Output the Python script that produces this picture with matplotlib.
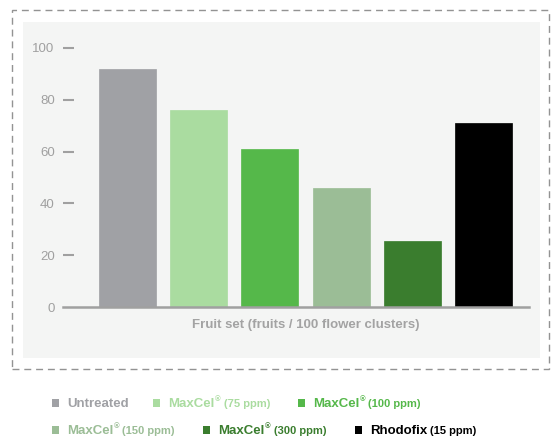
import matplotlib
matplotlib.use("Agg")
import matplotlib.pyplot as plt
from matplotlib.patches import Rectangle

# data
names = ["Untreated", "MaxCel", "MaxCel", "MaxCel", "MaxCel", "Rhodofix"]
doses = ["", "(75 ppm)", "(100 ppm)", "(150 ppm)", "(300 ppm)", "(15 ppm)"]
values = [92, 76, 61, 46, 25.5, 71]
colors = ["#a0a1a5", "#aadca0", "#55b84a", "#9bbd96", "#3a7d2e", "#000000"]
text_colors = ["#a0a1a5", "#aadca0", "#55b84a", "#9bbd96", "#3a7d2e", "#000000"]
yticks = [0, 20, 40, 60, 80, 100]
xlabel = "Fruit set (fruits / 100 flower clusters)"

plt.rcParams['font.family'] = ['Liberation Sans', 'DejaVu Sans']

W, H = 551, 438
fig = plt.figure(figsize=(W / 100, H / 100), dpi=100)


def fx(x):
    return x / W


def fy(y):
    return 1 - y / H


# dashed frame and grey panel (behind the axes)
fig.patches.append(Rectangle((fx(12), fy(369)), fx(537), 359 / H, transform=fig.transFigure,
                             fill=False, edgecolor="#939393", lw=1, ls=(0, (5, 3.5)), zorder=-2))
fig.patches.append(Rectangle((fx(23), fy(358)), fx(517), 336 / H, transform=fig.transFigure,
                             facecolor="#f4f5f4", edgecolor="none", zorder=-1))

ax = fig.add_axes([fx(63), fy(307), fx(466), 259 / H])
ax.patch.set_visible(False)
x = range(len(values))
ax.bar(x, values, width=0.8, color=colors, edgecolor=colors, linewidth=0.5)
ax.set_xlim(-0.906, 5.64)
ax.set_ylim(0, 100)

for s in ["top", "right", "left"]:
    ax.spines[s].set_visible(False)
ax.spines["bottom"].set_color("#a0a0a0")
ax.spines["bottom"].set_linewidth(1.8)
ax.set_xticks([])
ax.set_yticks(yticks)
ax.tick_params(axis="y", direction="in", length=8, width=1.5, color="#a0a0a0",
               labelcolor="#a0a0a0", labelsize=9.5, pad=6)
ax.yaxis.get_major_ticks()[0].tick1line.set_visible(False)
ax.set_xlabel(xlabel, fontsize=9.5, fontweight="bold", color="#a3a3a3")
ax.xaxis.set_label_coords(0.521, -0.045, transform=ax.transAxes)
ax.xaxis.label.set_va("top")

# legend built from text pieces
rows = [(52, 407), (153, 407), (298, 407), (52, 434), (203, 434), (355, 434)]
fig.canvas.draw()
r = fig.canvas.get_renderer()
for i in range(len(names)):
    lx, ly = rows[i]
    fig.patches.append(Rectangle((fx(lx), fy(ly)), 7 / W, 8 / H, transform=fig.transFigure,
                                 facecolor=colors[i], edgecolor="none"))
    t = fig.text(fx(lx + 15), fy(ly), names[i], fontsize=9.5, fontweight="bold",
                 color=text_colors[i], va="baseline")
    cur = t.get_window_extent(r).x1
    if names[i] == "MaxCel":
        s = fig.text(fx(cur + 0.5), fy(ly - 6), "®", fontsize=5.5, fontweight="bold",
                     color=text_colors[i], va="baseline")
        cur = s.get_window_extent(r).x1
    if doses[i]:
        fig.text(fx(cur + 3), fy(ly), doses[i], fontsize=8, fontweight="bold",
                 color=text_colors[i], va="baseline")

fig.savefig("out.png", dpi=100)
